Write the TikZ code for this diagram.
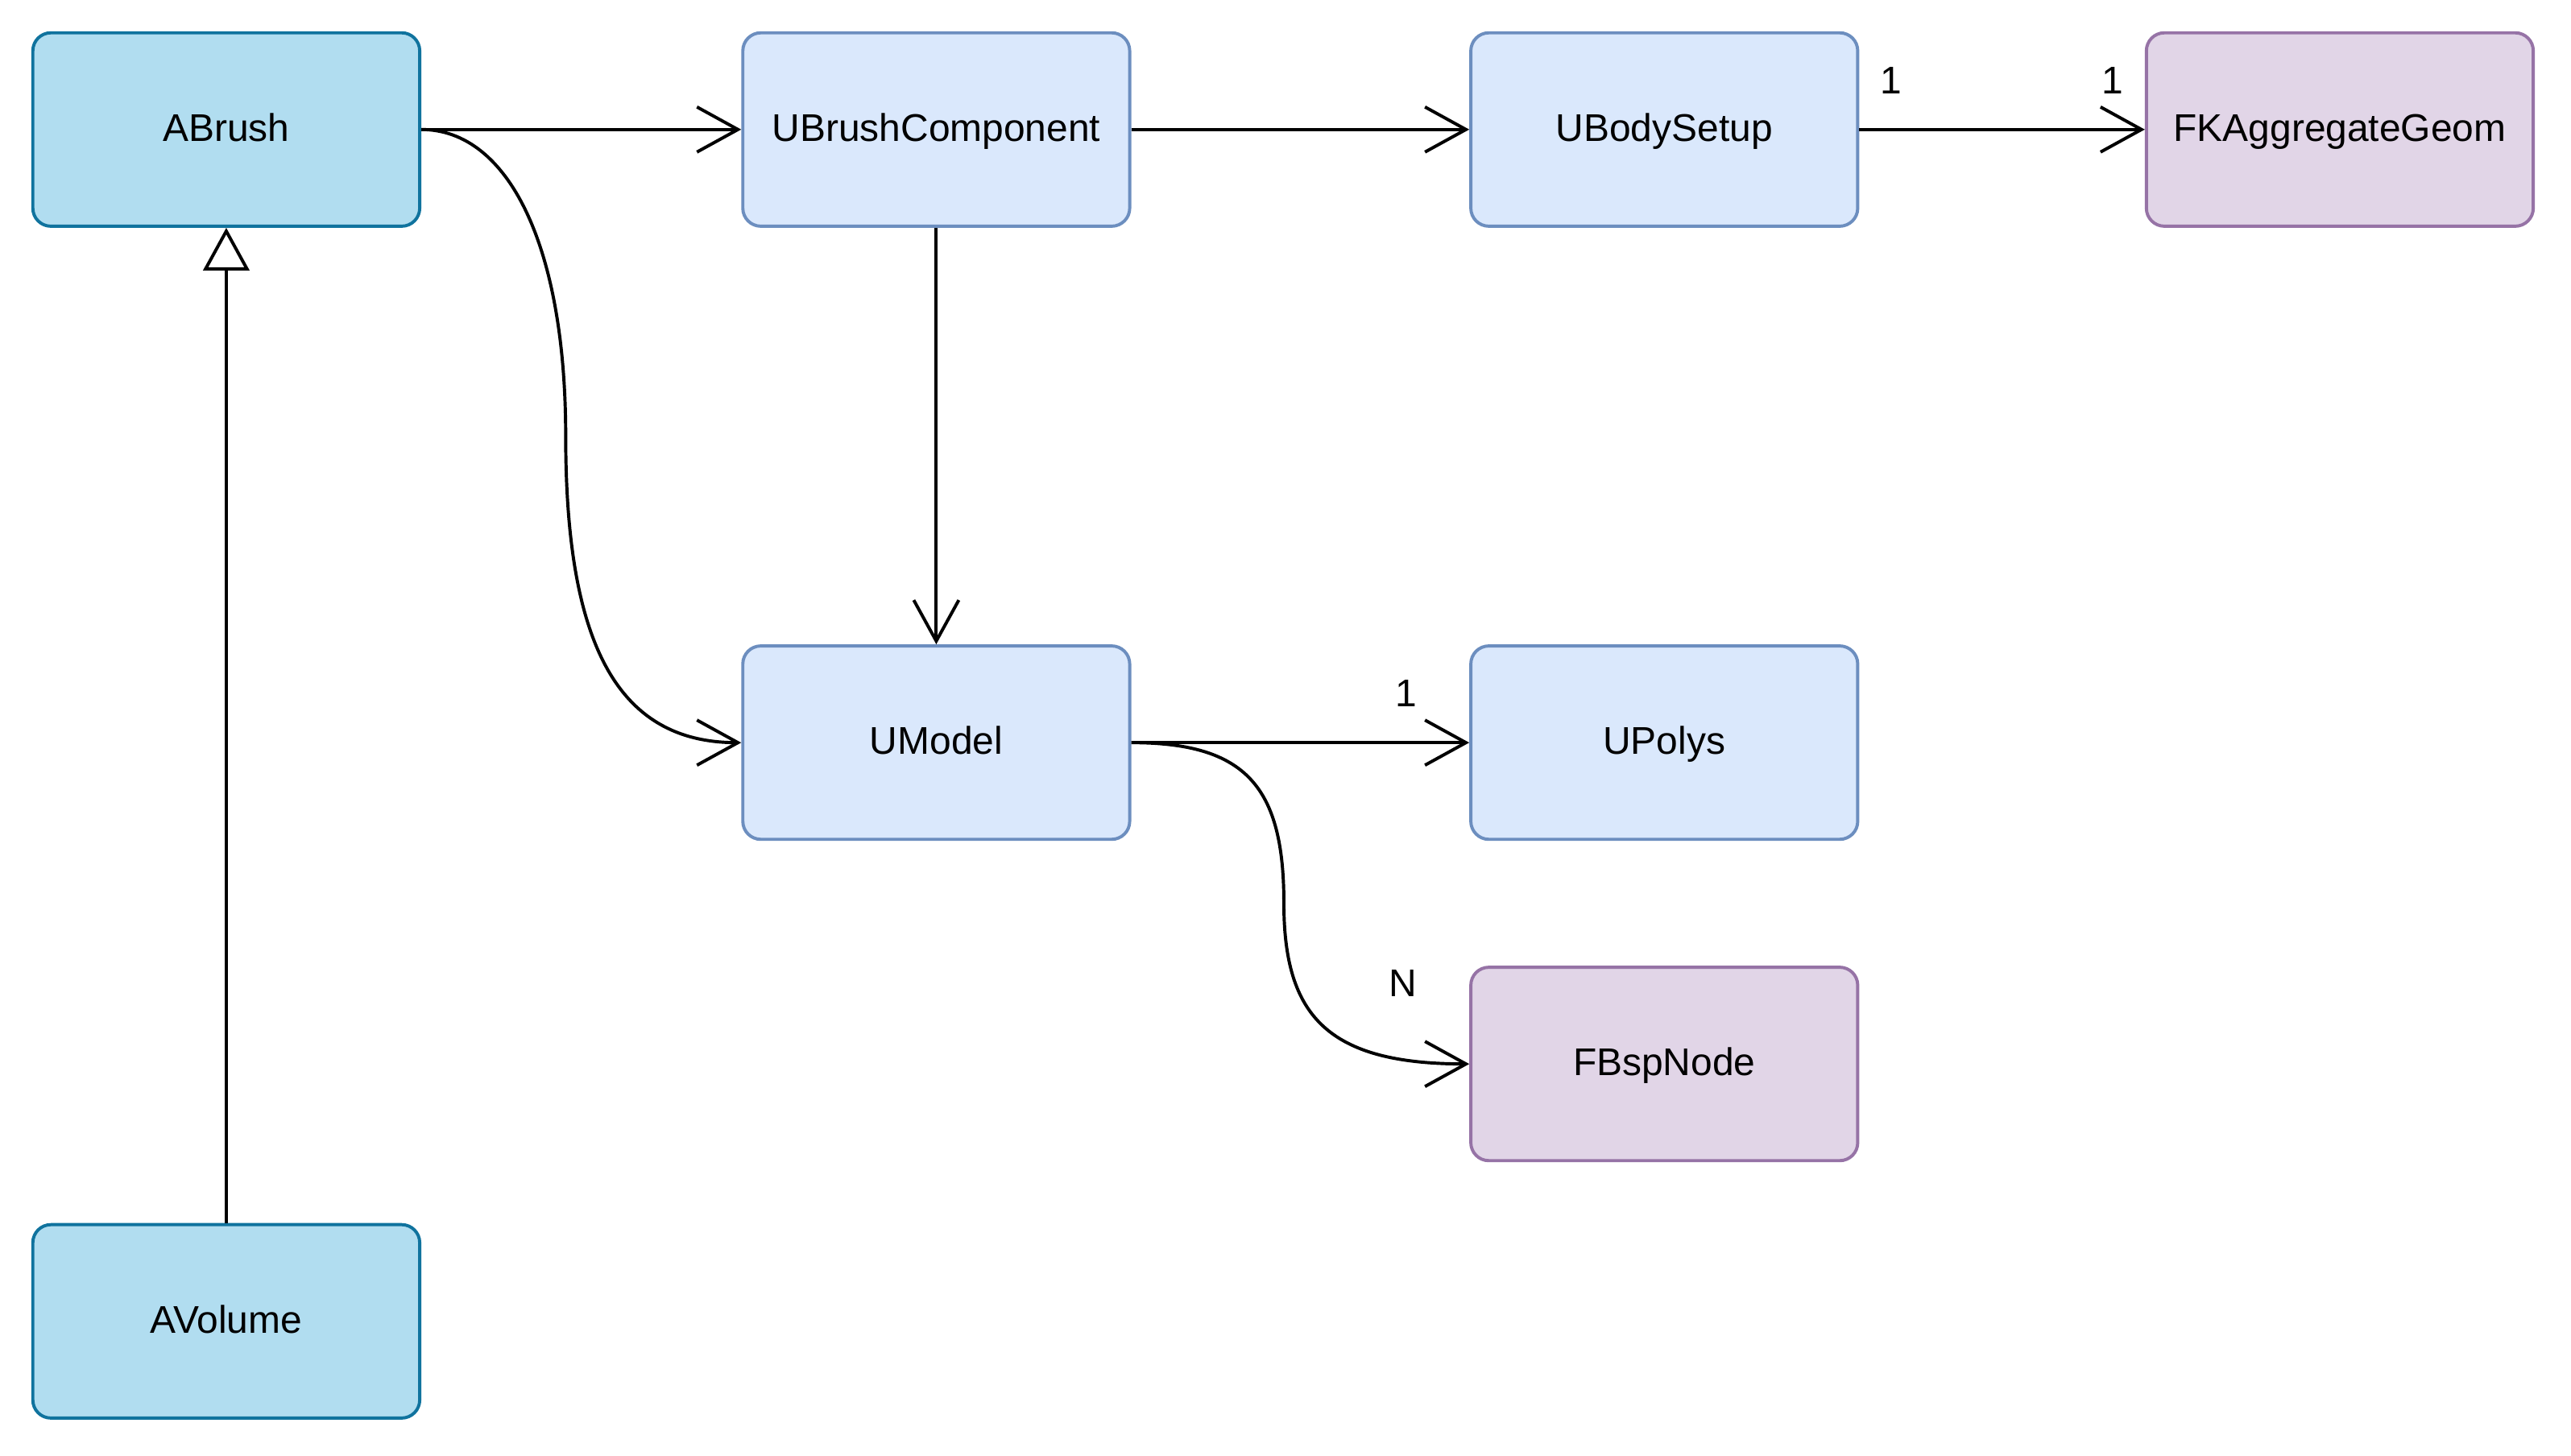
\documentclass[tikz,border=0pt]{standalone}
\usepackage{xcolor}
\usepackage{tikz}
\usepackage{fontspec}
\setmainfont{Liberation Sans}
\usetikzlibrary{arrows.meta,positioning}

\definecolor{actfill}{HTML}{B1DDF0}
\definecolor{actline}{HTML}{10739E}
\definecolor{objfill}{HTML}{DAE8FC}
\definecolor{objline}{HTML}{6C8EBF}
\definecolor{geofill}{HTML}{E1D5E7}
\definecolor{geoline}{HTML}{9673A6}

\tikzset{
  box/.style={draw,rounded corners=0.22cm,line width=1.1pt,minimum width=4.72cm,minimum height=2.36cm,inner sep=0pt,text height=1.02em,text depth=0.2em},
  actorbox/.style={box,fill=actfill,draw=actline},
  objbox/.style={box,fill=objfill,draw=objline},
  geobox/.style={box,fill=geofill,draw=geoline},
  assoc/.style={line width=1.1pt,-{Straight Barb[length=0.5cm,width=0.55cm,line width=1.1pt]}},
  inherit/.style={line width=1.1pt,-{Triangle[open,length=0.52cm,width=0.56cm,line width=1.1pt,fill=white]}},
  mult/.style={inner sep=0pt}
}

\begin{document}
\begin{tikzpicture}[x=0.02cm, y=-0.02cm, every node/.style={font=\fontsize{13.4}{16}\selectfont}]
  \useasboundingbox (0,0) rectangle (1568,888);

  \node[actorbox] (abrush)  at (138,79)  {ABrush};
  \node[actorbox] (avolume) at (138,806) {AVolume};
  \node[objbox]   (ubc)     at (571,79)  {UBrushComponent};
  \node[objbox]   (ubody)   at (1015,79) {UBodySetup};
  \node[geobox]   (fkagg)   at (1427,79) {FKAggregateGeom};
  \node[objbox]   (umodel)  at (571,453) {UModel};
  \node[objbox]   (upolys)  at (1015,453) {UPolys};
  \node[geobox]   (fbsp)    at (1015,649) {FBspNode};

  % inheritance
  \draw[inherit] (avolume.north) -- (abrush.south);

  % references
  \draw[assoc] (abrush.east) -- (ubc.west);
  \draw[assoc] (abrush.east) .. controls (310,79) and (345,150) .. (345,266)
                             .. controls (345,390) and (375,453) .. (umodel.west);
  \draw[assoc] (ubc.east) -- (ubody.west);
  \draw[assoc] (ubc.south) -- (umodel.north);
  \draw[assoc] (ubody.east) -- (fkagg.west)
    node[mult,pos=0,above right,xshift=0.24cm,yshift=0.42cm] {1}
    node[mult,pos=1,above left,xshift=-0.24cm,yshift=0.42cm] {1};
  \draw[assoc] (umodel.east) -- (upolys.west)
    node[mult,pos=1,above left,xshift=-0.62cm,yshift=0.42cm] {1};
  \draw[assoc] (umodel.east) .. controls (760,453) and (783,480) .. (783,551)
                             .. controls (783,620) and (810,649) .. (fbsp.west)
    node[mult,pos=1,above left,xshift=-0.62cm,yshift=0.8cm] {N};
\end{tikzpicture}
\end{document}
